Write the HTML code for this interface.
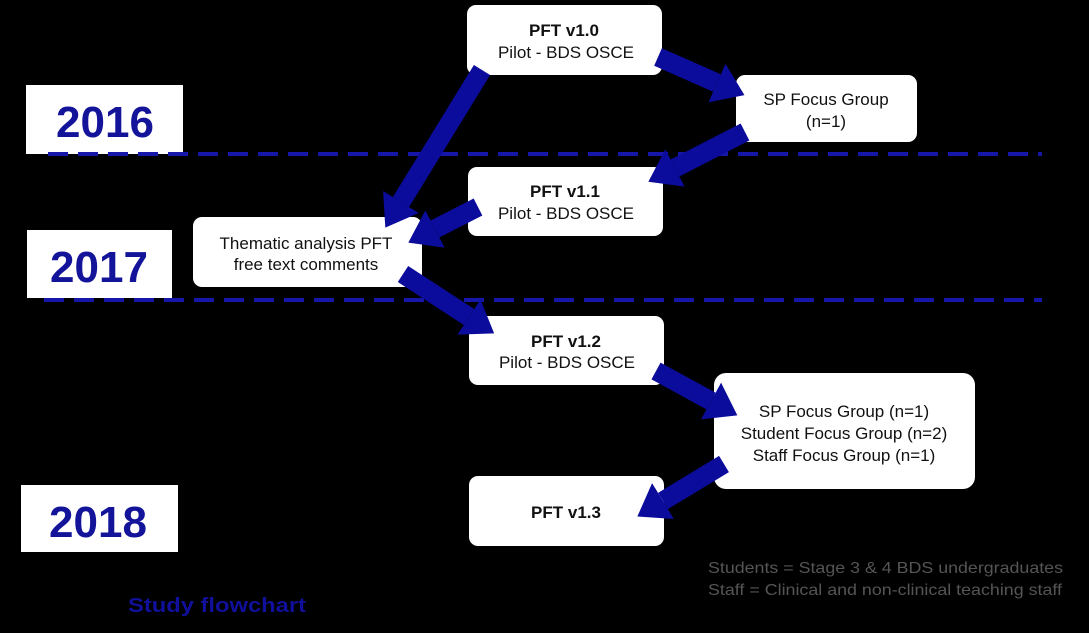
<!DOCTYPE html>
<html><head><meta charset="utf-8"><style>
html,body{margin:0;padding:0;background:#000;}
svg{display:block;}
text{font-family:"Liberation Sans",Arial,sans-serif;}
</style></head><body>
<svg width="1089" height="633" viewBox="0 0 1089 633" xmlns="http://www.w3.org/2000/svg">
<defs>
<marker id="ah" markerUnits="userSpaceOnUse" markerWidth="30" markerHeight="42" viewBox="0 0 30 42" refX="0" refY="21" orient="auto">
<path d="M0,0 L30,21 L0,42 z" fill="#0c0c9c"/>
</marker>
</defs>
<rect width="1089" height="633" fill="#000"/>
<rect x="26" y="85" width="157" height="69" fill="#fff"/>
<text x="105" y="137" font-size="44" font-weight="bold" fill="#14149a" text-anchor="middle">2016</text>
<rect x="27" y="230" width="145" height="68" fill="#fff"/>
<text x="99" y="282" font-size="44" font-weight="bold" fill="#14149a" text-anchor="middle">2017</text>
<rect x="21" y="485" width="157" height="67" fill="#fff"/>
<text x="98" y="537" font-size="44" font-weight="bold" fill="#14149a" text-anchor="middle">2018</text>
<line x1="48" y1="154" x2="1042" y2="154" stroke="#1616a8" stroke-width="4" stroke-dasharray="20,10"/>
<line x1="44" y1="300" x2="1042" y2="300" stroke="#1616a8" stroke-width="4" stroke-dasharray="20,10"/>
<g fill="#fff">
<rect x="467" y="5" width="195" height="70" rx="9"/>
<rect x="736" y="75" width="181" height="67" rx="9"/>
<rect x="468" y="167" width="195" height="69" rx="9"/>
<rect x="193" y="217" width="229" height="70" rx="9"/>
<rect x="469" y="316" width="195" height="69" rx="9"/>
<rect x="714" y="373" width="261" height="116" rx="12"/>
<rect x="469" y="476" width="195" height="70" rx="9"/>
</g>
<g font-size="17" fill="#111" text-anchor="middle">
<text x="564" y="36" font-weight="bold">PFT v1.0</text>
<text x="566" y="58">Pilot - BDS OSCE</text>
<text x="826" y="105">SP Focus Group</text>
<text x="826" y="127">(n=1)</text>
<text x="565" y="197" font-weight="bold">PFT v1.1</text>
<text x="566" y="219">Pilot - BDS OSCE</text>
<text x="306" y="249">Thematic analysis  PFT</text>
<text x="306" y="270">free text comments</text>
<text x="566" y="347" font-weight="bold">PFT v1.2</text>
<text x="567" y="368">Pilot - BDS OSCE</text>
<text x="844" y="417">SP Focus Group (n=1)</text>
<text x="844" y="439">Student Focus Group (n=2)</text>
<text x="844" y="461">Staff Focus Group (n=1)</text>
<text x="566" y="518" font-weight="bold">PFT v1.3</text>
</g>
<g stroke="#0c0c9c" stroke-width="19" marker-end="url(#ah)">
<line x1="658" y1="57" x2="717" y2="83"/>
<line x1="745" y1="132" x2="675" y2="168"/>
<line x1="482" y1="70" x2="401" y2="202"/>
<line x1="478" y1="207" x2="435" y2="229"/>
<line x1="403" y1="274" x2="469" y2="317"/>
<line x1="656" y1="371" x2="711" y2="401"/>
<line x1="724" y1="464" x2="663" y2="501"/>
</g>
<text x="128" y="612" font-size="20" font-weight="bold" fill="#10109c" textLength="178" lengthAdjust="spacingAndGlyphs">Study flowchart</text>
<g font-size="16" fill="#555">
<text x="708" y="573" textLength="355" lengthAdjust="spacingAndGlyphs">Students = Stage 3 &amp; 4 BDS undergraduates</text>
<text x="708" y="595" textLength="354" lengthAdjust="spacingAndGlyphs">Staff = Clinical and non-clinical teaching staff</text>
</g>
</svg>
</body></html>
